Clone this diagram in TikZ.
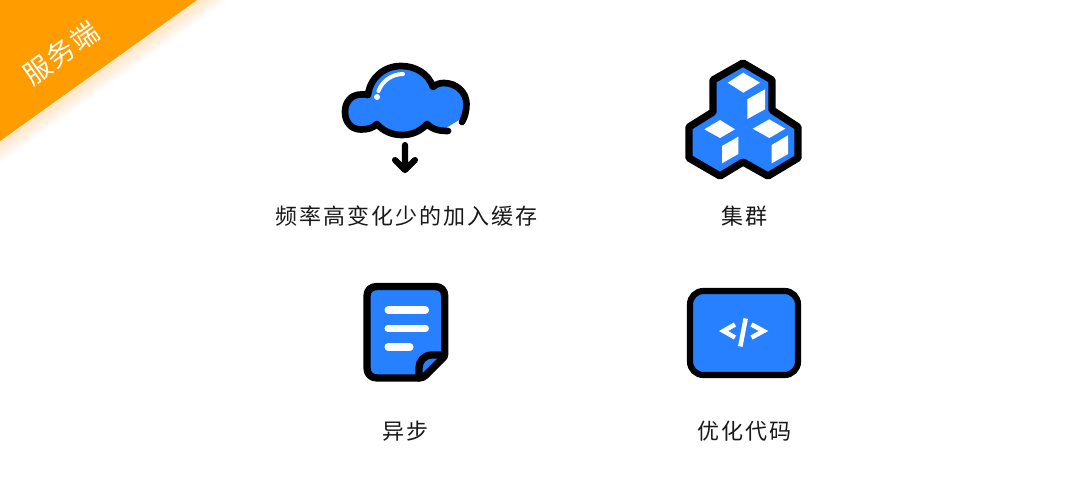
\documentclass[tikz,border=0pt]{standalone}
\usepackage{fontspec}
\newfontfamily\cjk[LetterSpace=9]{Noto Sans CJK SC}
\newfontfamily\cjkb[LetterSpace=8]{Noto Sans CJK SC}
\definecolor{iconblue}{HTML}{2680FF}
\definecolor{bannerorange}{HTML}{FF9C00}
\tikzset{
  outline/.style={draw=black,line width=5.5pt,line join=round,line cap=round},
  cloudline/.style={draw=black,line width=5pt,line join=round,line cap=round},
  whiteline/.style={draw=white,line cap=round,line join=round},
  face/.style={fill=white},
  caption/.style={font=\cjk\fontsize{16.5}{16.5}\selectfont,text=black!90,inner sep=0pt,anchor=center}
}
\begin{document}
\begin{tikzpicture}[x=0.75pt,y=-0.75pt]
\useasboundingbox (0,0) rectangle (1080,500);
\fill[white] (0,0) rectangle (1080,500);
% banner
\begin{scope}
\clip (0,0) rectangle (1080,500);
\foreach \i in {1,...,10}{
  \fill[bannerorange,opacity=0.025] (0,0) -- ({197+\i*1.8/0.58},0) -- (0,{141+\i*1.8/0.81}) -- cycle;
}
\fill[bannerorange] (0,0) -- (197,0) -- (0,141) -- cycle;
\end{scope}
\node[rotate=35.8,text=white,font=\cjkb\fontsize{20.5}{20.5}\selectfont,inner sep=0pt] (banner) at (61,53) {服务端};
% cloud
\fill[iconblue] (459,120) .. controls (465,113) and (466.5,110) .. (466.5,104)
  .. controls (466.5,92) and (456,83) .. (444,83) .. controls (440,83) and (436,84) .. (433,87)
  .. controls (428,73) and (415,66) .. (401,66) .. controls (384,66) and (370,78) .. (368,95)
  .. controls (366,94.5) and (363,94) .. (361,94.5) .. controls (351,94.5) and (345,102) .. (345,112)
  .. controls (345,122) and (351,129.5) .. (361,129.5) .. controls (368,129.5) and (373,128) .. (377,124)
  .. controls (383,131) and (392,135) .. (402,135) .. controls (412,135) and (421,131) .. (427,124)
  .. controls (431,128) and (436,129) .. (446,128) -- cycle;
\draw[cloudline] (462,122) .. controls (465,117) and (466.5,110) .. (466.5,104)
  .. controls (466.5,92) and (456,83) .. (444,83) .. controls (440,83) and (436,84) .. (433,87)
  .. controls (428,73) and (415,66) .. (401,66) .. controls (384,66) and (370,78) .. (368,95)
  .. controls (366,94.5) and (363,94) .. (361,94.5) .. controls (351,94.5) and (345,102) .. (345,112)
  .. controls (345,122) and (351,129.5) .. (361,129.5) .. controls (368,129.5) and (373,128) .. (377,124)
  .. controls (383,131) and (392,135) .. (402,135) .. controls (412,135) and (421,131) .. (427,124)
  .. controls (431,128) and (436,131) .. (448,131);
\draw[whiteline,line width=3pt] (403,74) .. controls (392,74) and (382,81) .. (378.5,91);
\fill[white] (377,97) circle (3);
\draw[draw=black,line width=4.6pt,line cap=round,line join=round] (405,145) -- (405,170) (395,160) -- (405,170) -- (415,160);
% cubes
\fill[iconblue] (743,63) -- (772,80) -- (772,110) -- (798,127) -- (798,158) -- (768,176) -- (743,162) -- (720,176) -- (689,158) -- (689,127) -- (713,112) -- (713,80) -- cycle;
\draw[outline] (743,63) -- (772,80) -- (772,110) -- (798,127) -- (798,158) -- (768,176) -- (743,162) -- (720,176) -- (689,158) -- (689,127) -- (713,112) -- (713,80) -- cycle;
\fill[face] (743.3,72.7) -- (760,82.7) -- (743.3,92.7) -- (727.7,82.7) -- cycle;
\fill[face] (765,89.3) -- (765,109.3) -- (747.3,119) -- (747.3,99.3) -- cycle;
\fill[face] (720,120) -- (735,129.3) -- (720,138) -- (704.3,129.3) -- cycle;
\fill[face] (738.3,136.7) -- (738.3,154) -- (722,163.3) -- (722,146) -- cycle;
\fill[face] (769.3,119.3) -- (785.3,128.7) -- (769.3,138) -- (752.7,128.7) -- cycle;
\fill[face] (788,135.3) -- (788,154) -- (771.7,163.3) -- (771.7,145) -- cycle;
% document
\fill[iconblue] (377,286.5) -- (435,286.5) .. controls (441,286.5) and (444.7,290) .. (444.7,296) -- (444.7,356) -- (424,378) -- (377,378) .. controls (371,378) and (367,374) .. (367,368) -- (367,296) .. controls (367,290) and (371,286.5) .. (377,286.5) -- cycle;
\draw[outline] (377,286.5) -- (435,286.5) .. controls (441,286.5) and (444.7,290) .. (444.7,296) -- (444.7,354) .. controls (444.7,356) and (444,357) .. (443,358) -- (426,375) .. controls (424,377) and (422,378) .. (419,378) -- (377,378) .. controls (371,378) and (367,374) .. (367,368) -- (367,296) .. controls (367,290) and (371,286.5) .. (377,286.5) -- cycle;
\draw[outline] (443,355) -- (432,355) .. controls (424,355) and (419,361) .. (419,368) -- (419,378);
\draw[whiteline,line width=5.3pt] (388,310) -- (425.5,310) (388,328.3) -- (425.5,328.3) (388,347) -- (410,347);
% code
\fill[iconblue,draw=black,line width=4.6pt,rounded corners=10pt] (690,291) rectangle (798,375);
\draw[whiteline,line width=3.4pt,line cap=butt,line join=miter] (735,324.5) -- (723.5,331) -- (735,337.5);
\draw[whiteline,line width=3.4pt,line cap=butt] (745.7,318.5) -- (740.3,346.5);
\draw[whiteline,line width=3.4pt,line cap=butt,line join=miter] (751.5,324.5) -- (763.5,331) -- (751.5,337.5);
% captions
\node[caption] (c1) at (406.5,216) {频率高变化少的加入缓存};
\node[caption] (c2) at (744.5,216) {集群};
\node[caption] (c3) at (405.5,431) {异步};
\node[caption] (c4) at (744.5,431) {优化代码};
\end{tikzpicture}
\end{document}
